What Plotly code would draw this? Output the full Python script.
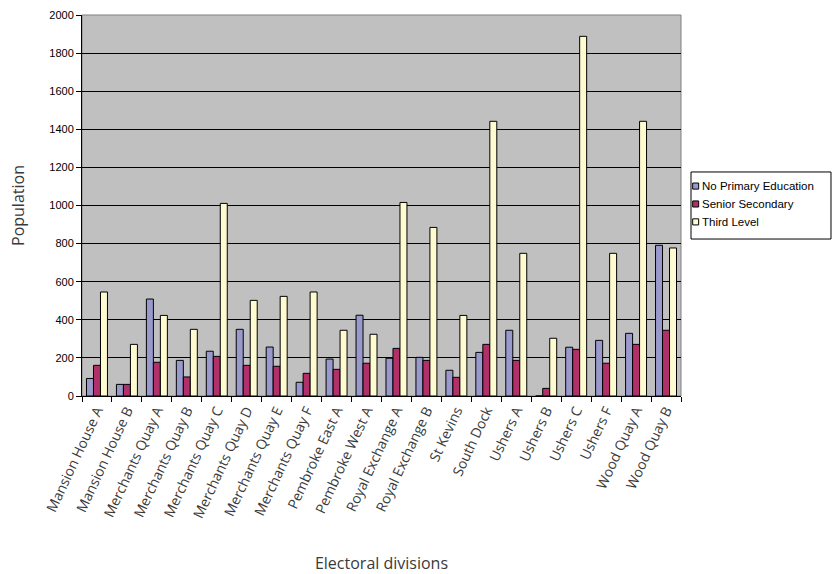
import plotly.graph_objects as go

divisions = [
    "Mansion House A", "Mansion House B", "Merchants Quay A", "Merchants Quay B",
    "Merchants Quay C", "Merchants Quay D", "Merchants Quay E", "Merchants Quay F",
    "Pembroke East A", "Pembroke West A", "Royal Exchange A", "Royal Exchange B",
    "St Kevins", "South Dock", "Ushers A", "Ushers B", "Ushers C", "Ushers F",
    "Wood Quay A", "Wood Quay B",
]
no_primary = [92, 61, 509, 187, 235, 350, 257, 72, 194, 424,
              198, 203, 135, 229, 345, 0, 256, 292, 329, 791]
senior_secondary = [161, 61, 177, 100, 208, 161, 156, 119, 140, 172,
                    250, 187, 98, 271, 187, 40, 245, 172, 271, 345]
third_level = [546, 271, 423, 350, 1011, 502, 523, 546, 345, 324,
               1016, 885, 423, 1442, 749, 303, 1888, 749, 1442, 777]

series_names = ["No Primary Education", "Senior Secondary", "Third Level"]
series_values = [no_primary, senior_secondary, third_level]
series_colors = ["#9999CC", "#B0306A", "#FFFBD0"]

fig = go.Figure()
for name, vals, color in zip(series_names, series_values, series_colors):
    fig.add_trace(go.Bar(
        name=name, x=divisions, y=vals,
        marker=dict(color=color, line=dict(color="black", width=1)),
    ))

fig.update_layout(
    width=834, height=574,
    margin=dict(l=82, r=153, t=15, b=178),
    paper_bgcolor="white",
    plot_bgcolor="#C0C0C0",
    barmode="group",
    bargap=0.3,
    bargroupgap=0,
    font=dict(family="Liberation Sans, Arial", size=11, color="black"),
    showlegend=False,
)

fig.update_xaxes(
    type="category", automargin=False,
    showline=True, linecolor="black", linewidth=1,
    ticks="outside", ticklen=5, tickcolor="black", tickson="boundaries",
    tickangle=-65,
    tickfont=dict(family="Open Sans", size=14, color="#3a3a3a"),
    title=dict(text="Electoral divisions", standoff=38,
               font=dict(family="Open Sans", size=16, color="#3a3a3a")),
    showgrid=False,
)
fig.update_yaxes(
    range=[0, 2000], dtick=200, automargin=False,
    showline=True, linecolor="black", linewidth=1,
    ticks="outside", ticklen=5, tickcolor="black",
    showgrid=True, gridcolor="black", gridwidth=1,
    tickfont=dict(family="Liberation Sans, Arial", size=11, color="black"),
    title=dict(text="Population", standoff=20,
               font=dict(family="Open Sans", size=16, color="#3a3a3a")),
    zeroline=False,
)

# grey frame around the plotting area
fig.add_shape(type="rect", xref="paper", yref="paper", x0=0, y0=0, x1=1, y1=1,
              line=dict(color="#808080", width=1), layer="below")

# compact legend box to the right of the plot
fig.add_shape(type="rect", xref="paper", yref="paper",
              x0=1.0167, x1=1.2504, y0=0.412, y1=0.588,
              line=dict(color="black", width=1), fillcolor="white")
item_y = [0.551, 0.504, 0.457]
for name, color, yc in zip(series_names, series_colors, item_y):
    fig.add_shape(type="rect", xref="paper", yref="paper",
                  x0=1.0195, x1=1.0295, y0=yc - 0.008, y1=yc + 0.008,
                  line=dict(color="black", width=1), fillcolor=color)
    fig.add_annotation(text=name, xref="paper", yref="paper",
                       x=1.0325, y=yc, xanchor="left", yanchor="middle",
                       showarrow=False,
                       font=dict(family="Liberation Sans, Arial", size=11.5,
                                 color="black"))

fig.write_html("out.html")
